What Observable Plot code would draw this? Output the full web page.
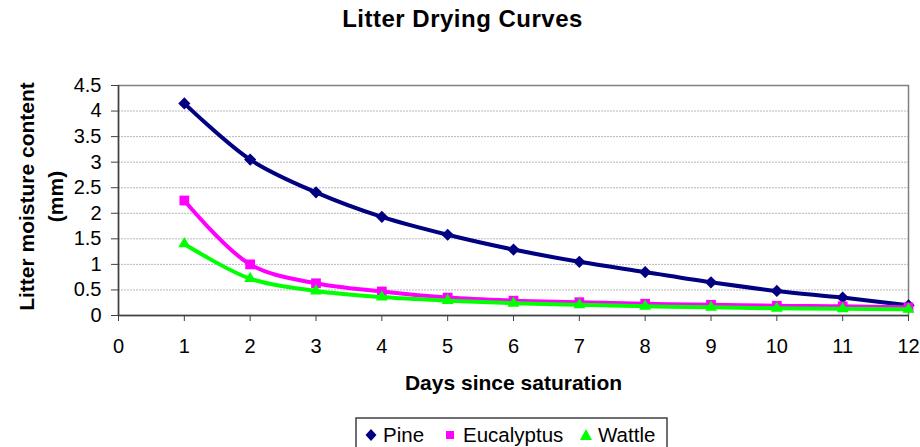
<!DOCTYPE html>
<html>
<head>
<meta charset="utf-8">
<script src="https://cdn.jsdelivr.net/npm/d3@7"></script>
<script src="https://cdn.jsdelivr.net/npm/@observablehq/plot@0.6"></script>
<style>
  html, body { margin: 0; padding: 0; overflow: hidden; background: #fff; }
  body { width: 920px; height: 447px; font-family: "Liberation Sans", Arial, sans-serif; }
  #title { box-sizing: border-box; width: 920px; height: 45px; padding-left: 5px; text-align: center;
           font-size: 24px; font-weight: bold; line-height: 38px; letter-spacing: 0.5px; color: #000; }
  svg { display: block; }
</style>
</head>
<body>
<div id="title">Litter Drying Curves</div>
<div id="chart"></div>
<div id="legend"></div>
<script>
// ---- data ----
const days = [1, 2, 3, 4, 5, 6, 7, 8, 9, 10, 11, 12];
const seriesNames = ["Pine", "Eucalyptus", "Wattle"];
const pine       = [4.15, 3.05, 2.41, 1.93, 1.58, 1.29, 1.05, 0.85, 0.65, 0.48, 0.35, 0.20];
const eucalyptus = [2.25, 1.00, 0.63, 0.47, 0.35, 0.29, 0.26, 0.23, 0.21, 0.19, 0.18, 0.16];
const wattle     = [1.40, 0.72, 0.48, 0.36, 0.29, 0.24, 0.21, 0.18, 0.16, 0.14, 0.13, 0.12];
const xTicks = [0, 1, 2, 3, 4, 5, 6, 7, 8, 9, 10, 11, 12];
const yTicks = [0, 0.5, 1, 1.5, 2, 2.5, 3, 3.5, 4, 4.5];
const titleText = "Litter Drying Curves";
const xLabel = "Days since saturation";
const yLabel = "Litter moisture content\n(mm)";

// ---- styles (separate from data) ----
const styles = {
  Pine:       {color: "#000080", symbol: "diamond2", r: 5.5},
  Eucalyptus: {color: "#FF00FF", symbol: "square",   r: 5.5},
  Wattle:     {color: "#00FF00", symbol: "triangle", r: 4.4}
};

const valuesBySeries = {Pine: pine, Eucalyptus: eucalyptus, Wattle: wattle};
const rows = seriesNames.flatMap(name => days.map((d, i) => ({series: name, day: d, value: valuesBySeries[name][i]})));

const seriesMarks = seriesNames.flatMap(name => {
  const data = rows.filter(r => r.series === name);
  const s = styles[name];
  return [
    Plot.line(data, {x: "day", y: "value", stroke: s.color, strokeWidth: 4, curve: "catmull-rom"}),
    Plot.dot(data, {x: "day", y: "value", symbol: s.symbol, r: s.r, fill: s.color, stroke: "none"})
  ];
});

const chart = Plot.plot({
  width: 920,
  height: 360,
  marginTop: 40,
  marginBottom: 90,
  marginLeft: 118,
  marginRight: 12,
  style: {fontFamily: '"Liberation Sans", Arial, sans-serif', fontSize: "20px", color: "#000", background: "#fff"},
  x: {domain: [0, 12]},
  y: {domain: [0, 4.5]},
  marks: [
    Plot.gridY(yTicks.filter(d => d > 0 && d < 4.5), {stroke: "#b8b8b8", strokeOpacity: 1, strokeDasharray: "2,1", strokeWidth: 1}),
    Plot.frame({stroke: "#808080", strokeWidth: 1.5}),
    Plot.axisY({ticks: yTicks, tickSize: 7, tickPadding: 10, tickFormat: d => String(d), label: null, fontSize: 20, stroke: "#404040"}),
    Plot.axisX({ticks: xTicks, tickSize: 6, tickPadding: 17, tickFormat: d => String(d), label: null, fontSize: 20, stroke: "#404040"}),
    Plot.ruleX([0], {stroke: "#404040", strokeWidth: 1.5}),
    Plot.ruleY([0], {stroke: "#404040", strokeWidth: 1.5}),
    ...seriesMarks,
    Plot.text([yLabel], {text: d => d, frameAnchor: "left", textAnchor: "middle", lineAnchor: "middle", dx: -79.5, dy: -4, rotate: -90, fontSize: 21, fontWeight: "bold", lineHeight: 1.4, fill: "#000"}),
    Plot.text([xLabel], {text: d => d, frameAnchor: "bottom", textAnchor: "middle", lineAnchor: "middle", dy: 67.3, fontSize: 21, fontWeight: "bold", fill: "#000"})
  ]
});
document.getElementById("chart").appendChild(chart);

// ---- legend ----
const legendLayout = {
  box: {x: 356, y: 13, w: 311, h: 40},
  items: [
    {name: "Pine", sx: 371, tx: 383},
    {name: "Eucalyptus", sx: 450, tx: 463},
    {name: "Wattle", sx: 586, tx: 598}
  ],
  sy: 30, ty: 36.7
};
const ns = "http://www.w3.org/2000/svg";
const leg = document.createElementNS(ns, "svg");
leg.setAttribute("width", 920);
leg.setAttribute("height", 42);
leg.setAttribute("font-family", '"Liberation Sans", Arial, sans-serif');
const box = document.createElementNS(ns, "rect");
box.setAttribute("x", legendLayout.box.x);
box.setAttribute("y", legendLayout.box.y);
box.setAttribute("width", legendLayout.box.w);
box.setAttribute("height", legendLayout.box.h);
box.setAttribute("fill", "#fff");
box.setAttribute("stroke", "#404040");
box.setAttribute("stroke-width", 1.5);
leg.appendChild(box);
const symbolPaths = {
  Pine: (cx, cy) => `M${cx},${cy - 6}L${cx + 5.5},${cy}L${cx},${cy + 6}L${cx - 5.5},${cy}Z`,
  Eucalyptus: (cx, cy) => `M${cx - 4},${cy - 4}h8v8h-8Z`,
  Wattle: (cx, cy) => `M${cx},${cy - 6}L${cx + 6},${cy + 5}L${cx - 6},${cy + 5}Z`
};
for (const it of legendLayout.items) {
  const p = document.createElementNS(ns, "path");
  p.setAttribute("d", symbolPaths[it.name](it.sx, legendLayout.sy));
  p.setAttribute("fill", styles[it.name].color);
  leg.appendChild(p);
  const t = document.createElementNS(ns, "text");
  t.setAttribute("x", it.tx);
  t.setAttribute("y", legendLayout.ty);
  t.setAttribute("font-size", "20.5px");
  t.setAttribute("fill", "#000");
  t.textContent = it.name;
  leg.appendChild(t);
}
document.getElementById("legend").appendChild(leg);
</script>
</body>
</html>
